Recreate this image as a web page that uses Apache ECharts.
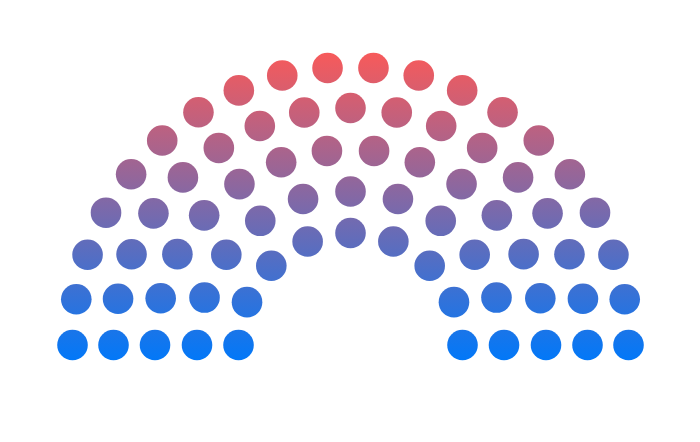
<!DOCTYPE html>
<html>
<head>
<meta charset="utf-8">
<script src="https://cdn.jsdelivr.net/npm/echarts@6/dist/echarts.min.js"></script>
<style>html,body{margin:0;padding:0;background:#fff;}#chart{width:700px;height:442px;}</style>
</head>
<body>
<div id="chart"></div>
<script>
// Seats per ring (inner -> outer)
var ringSeats = [9, 11, 14, 17, 20];
// Ring radii (layout, in radius-axis units = px)
var ringRadii = [112, 153.5, 195.5, 237, 278];
var topColor = '#f85a5a';
var bottomColor = '#0278f8';
var dotRadius = 15.3;

var seats = [];
ringSeats.forEach(function (n, i) {
  for (var k = 0; k < n; k++) {
    seats.push([ringRadii[i], 180 - 180 * k / (n - 1)]);
  }
});

var chart = echarts.init(document.getElementById('chart'), null, {renderer: 'canvas'});
chart.setOption({
  animation: false,
  backgroundColor: '#ffffff',
  polar: { center: [350.5, 345], radius: 278 },
  radiusAxis: { min: 0, max: 278, show: false },
  angleAxis: { min: 0, max: 360, startAngle: 0, clockwise: false, show: false },
  series: [{
    type: 'custom',
    coordinateSystem: 'polar',
    data: seats,
    renderItem: function (params, api) {
      var p = api.coord([api.value(0), api.value(1)]);
      var top = api.coord([278, 90])[1] - dotRadius;
      var bot = api.coord([278, 0])[1] + dotRadius;
      var grad = new echarts.graphic.LinearGradient(0, top, 0, bot, [
        { offset: 0, color: topColor },
        { offset: 1, color: bottomColor }
      ], true);
      return {
        type: 'circle',
        shape: { cx: p[0], cy: p[1], r: dotRadius },
        style: { fill: grad }
      };
    }
  }]
});
</script>
</body>
</html>
